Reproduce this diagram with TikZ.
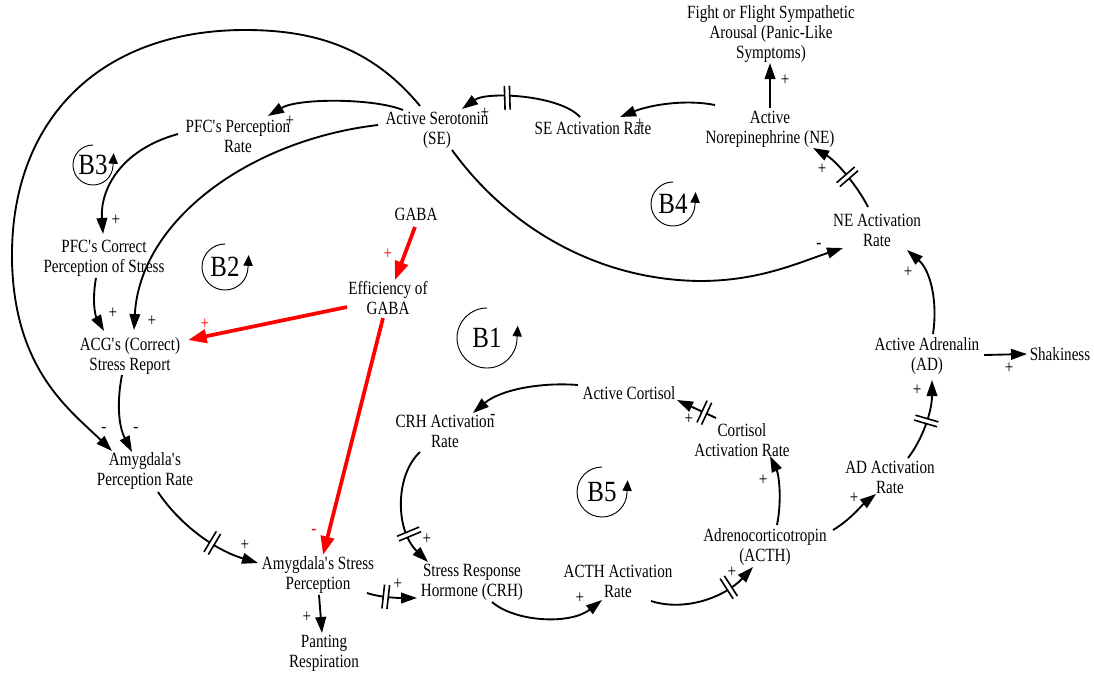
\documentclass[tikz,border=0pt]{standalone}
\usepackage{fontspec}
\setmainfont{Liberation Serif}[FakeStretch=0.81]
\newfontfamily\loopfont{Liberation Serif}[FakeStretch=0.85]
\usetikzlibrary{arrows.meta,calc,decorations.markings}
\newcommand\apo{\textquotesingle}
\begin{document}
\begin{tikzpicture}[x=0.75pt,y=-0.75pt,
  txt/.style={align=center, inner sep=0pt, font=\fontsize{14}{15}\selectfont},
  sgn/.style={inner sep=0pt, font=\fontsize{14}{15}\selectfont},
  rsgn/.style={sgn, text=red},
  lp/.style={inner sep=0pt, font=\loopfont\fontsize{22}{24}\selectfont},
  link/.style={line width=1.4pt, -{Triangle[length=12pt,width=8pt]}},
  redlink/.style={red, line width=2.8pt, -{Triangle[length=14pt,width=10pt]}},
  loopline/.style={line width=0.7pt, -{Triangle[length=8pt,width=7pt]}},
  delaymark/.style={postaction={decorate,decoration={markings,mark=at position #1 with {
     \fill[white] (-1.9pt,-9pt) rectangle (1.9pt,9pt);
     \draw[-,line width=1.2pt] (-1.9pt,-9pt)--(-1.9pt,9pt) (1.9pt,-9pt)--(1.9pt,9pt);}}}}
]
\useasboundingbox (0,0) rectangle (1094,672);
% variables
\node[txt] (ff) at (771,34) {Fight or Flight Sympathetic\\Arousal (Panic-Like\\Symptoms)};
\node[txt] (ne) at (770,129) {Active\\Norepinephrine (NE)};
\node[txt] (sear) at (593,128) {SE Activation Rate};
\node[txt] (se) at (437,130) {Active Serotonin\\(SE)};
\node[txt] (pfcr) at (238,136) {PFC\apo s Perception\\Rate};
\node[txt] (gaba) at (416,214) {GABA};
\node[txt] (pfcc) at (104,258) {PFC\apo s Correct\\Perception of Stress};
\node[txt] (eff) at (388,298) {Efficiency of\\GABA};
\node[txt] (acg) at (130,356) {ACG\apo s (Correct)\\Stress Report};
\node[txt] (near) at (877,230) {NE Activation\\Rate};
\node[txt] (ad) at (927,356) {Active Adrenalin\\(AD)};
\node[txt] (shk) at (1060,354) {Shakiness};
\node[txt] (cort) at (629,393) {Active Cortisol};
\node[txt] (crhr) at (445,431) {CRH Activation\\Rate};
\node[txt] (cortr) at (742,440) {Cortisol\\Activation Rate};
\node[txt] (adr) at (890,477) {AD Activation\\Rate};
\node[txt] (apr) at (145,471) {Amygdala\apo s\\Perception Rate};
\node[txt] (acth) at (765,547) {Adrenocorticotropin\\(ACTH)};
\node[txt] (asp) at (318,575) {Amygdala\apo s Stress\\Perception};
\node[txt] (crh) at (472,582) {Stress Response\\Hormone (CRH)};
\node[txt] (acthr) at (618,581) {ACTH Activation\\Rate};
\node[txt] (pant) at (324,653) {Panting\\Respiration};
% loop markers
\node[lp] (b1) at (487,338) {B1};
\draw[loopline] ($(b1)+(90:22.5pt)$) arc[start angle=90,end angle=358,radius=22.5pt] -- ++(0.6pt,10pt);
\node[lp] (b2) at (225,267) {B2};
\draw[loopline] ($(b2)+(90:17.25pt)$) arc[start angle=90,end angle=358,radius=17.25pt] -- ++(0.5pt,9.5pt);
\node[lp] (b3) at (93,165) {B3};
\draw[loopline] ($(b3)+(90:15pt)$) arc[start angle=90,end angle=358,radius=15pt] -- ++(0.5pt,9.5pt);
\node[lp] (b4) at (673,204) {B4};
\draw[loopline] ($(b4)+(90:16.5pt)$) arc[start angle=90,end angle=358,radius=16.5pt] -- ++(0.5pt,9.5pt);
\node[lp] (b5) at (602,492) {B5};
\draw[loopline] ($(b5)+(90:18.75pt)$) arc[start angle=90,end angle=358,radius=18.75pt] -- ++(0.5pt,9.5pt);
% connectors
\draw[link] ($(ne)+(0,-21)$) -- ($(ff)+(-1,29)$);
\draw[link] ($(ne)+(-55,-24)$) .. controls +(-30,-6) and +(30,-12) .. ($(sear)+(27,-11)$);
\draw[link, delaymark=0.62] ($(sear)+(-13,-11)$) .. controls +(-20,-22) and +(25,-18) .. ($(se)+(25,-21)$);
\draw[link] ($(se)+(-34,-20)$) .. controls +(-30,-12) and +(30,-18) .. ($(pfcr)+(30,-20)$);
\draw[link] ($(se)+(-17,-24)$) .. controls (370,45) and (310,30) .. (245,30)
   .. controls (100,30) and (10,120) .. (12,260)
   .. controls (14,370) and (70,410) .. ($(apr)+(-33,-20)$);
\draw[link] ($(se)+(-59,-5)$) .. controls +(-128,15) and +(6,-110) .. ($(acg)+(4,-26)$);
\draw[link] ($(se)+(15,20)$) .. controls (510,230) and (600,280) .. (700,281)
   .. controls (760,281) and (800,262) .. ($(near)+(-34,18)$);
\draw[link] ($(pfcr)+(-60,-2)$) .. controls +(-58,16) and +(-3,-44) .. ($(pfcc)+(-1,-24)$);
\draw[link] ($(pfcc)+(-8,20)$) .. controls +(-4,22) and +(-9,-16) .. ($(acg)+(-26,-25)$);
\draw[redlink] ($(eff)+(-41,9)$) -- ($(acg)+(58,-16)$);
\draw[redlink] ($(gaba)+(-1,13)$) -- ($(eff)+(7,-18)$);
\draw[redlink] ($(eff)+(-5,20)$) -- ($(asp)+(5,-20)$);
\draw[link] ($(acg)+(-8,19)$) .. controls +(-5,25) and +(-14,-27) .. ($(apr)+(-13,-19)$);
\draw[link, delaymark=0.6] ($(apr)+(13,21)$) .. controls +(22,33) and +(-43,-13) .. ($(asp)+(-60,-12)$);
\draw[link] ($(asp)+(1,20)$) -- ($(pant)+(-2,-20)$);
\draw[link, delaymark=0.38] ($(asp)+(49,18)$) .. controls +(15,5) and +(-15,0) .. ($(crh)+(-55,16)$);
\draw[link, delaymark=0.72] ($(crhr)+(-25,21)$) .. controls +(-25,23) and +(-33,-32) .. ($(crh)+(-44,-20)$);
\draw[link] ($(crh)+(20,20)$) .. controls +(23,20) and +(-32,25) .. ($(acthr)+(-16,19)$);
\draw[link, delaymark=0.72] ($(acthr)+(33,20)$) .. controls +(34,11) and +(-28,30) .. ($(acth)+(-12,20)$);
\draw[link] ($(acth)+(12,-22)$) .. controls +(5,-25) and +(9,19) .. ($(cortr)+(28,16)$);
\draw[link, delaymark=0.3] ($(cortr)+(-26,-22)$) -- ($(cort)+(48,7)$);
\draw[link] ($(cort)+(-51,-8)$) .. controls +(-38,-3) and +(27,-23) .. ($(crhr)+(28,-18)$);
\draw[link] ($(acth)+(68,-17)$) .. controls +(17,-10) and +(-14,11) .. ($(adr)+(-14,17)$);
\draw[link, delaymark=0.5] ($(adr)+(18,-19)$) .. controls +(14,-18) and +(0,32) .. ($(ad)+(5,24)$);
\draw[link] ($(ad)+(57,-1)$) -- ($(shk)+(-33,0)$);
\draw[link] ($(ad)+(6,-22)$) .. controls +(5,-34) and +(23,20) .. ($(near)+(30,20)$);
\draw[link, delaymark=0.45] ($(near)+(-9,-23)$) .. controls +(-11,-22) and +(22,12) .. ($(ne)+(43,19)$);
% polarity signs
\node[sgn] (s1) at (785,80) {+};
\node[sgn] (s2) at (640,124) {+};
\node[sgn] (s3) at (485,113) {+};
\node[sgn] (s4) at (290,121) {+};
\node[sgn] (s5) at (104,430) {-};
\node[sgn] (s6) at (152,321) {+};
\node[sgn] (s7) at (819,246) {-};
\node[sgn] (s8) at (116,220) {+};
\node[sgn] (s9) at (113,313) {+};
\node[rsgn] (s10) at (205,324) {+};
\node[rsgn] (s11) at (388,254) {+};
\node[rsgn] (s12) at (314,532) {-};
\node[sgn] (s13) at (136,430) {-};
\node[sgn] (s14) at (245,545) {+};
\node[sgn] (s15) at (307,617) {+};
\node[sgn] (s16) at (398,584) {+};
\node[sgn] (s17) at (427,539) {+};
\node[sgn] (s18) at (580,598) {+};
\node[sgn] (s19) at (732,572) {+};
\node[sgn] (s20) at (763,480) {+};
\node[sgn] (s21) at (689,419) {+};
\node[sgn] (s22) at (493,417) {-};
\node[sgn] (s23) at (854,498) {+};
\node[sgn] (s24) at (917,390) {+};
\node[sgn] (s25) at (1009,368) {+};
\node[sgn] (s26) at (908,272) {+};
\node[sgn] (s27) at (822,169) {+};
\end{tikzpicture}
\end{document}
